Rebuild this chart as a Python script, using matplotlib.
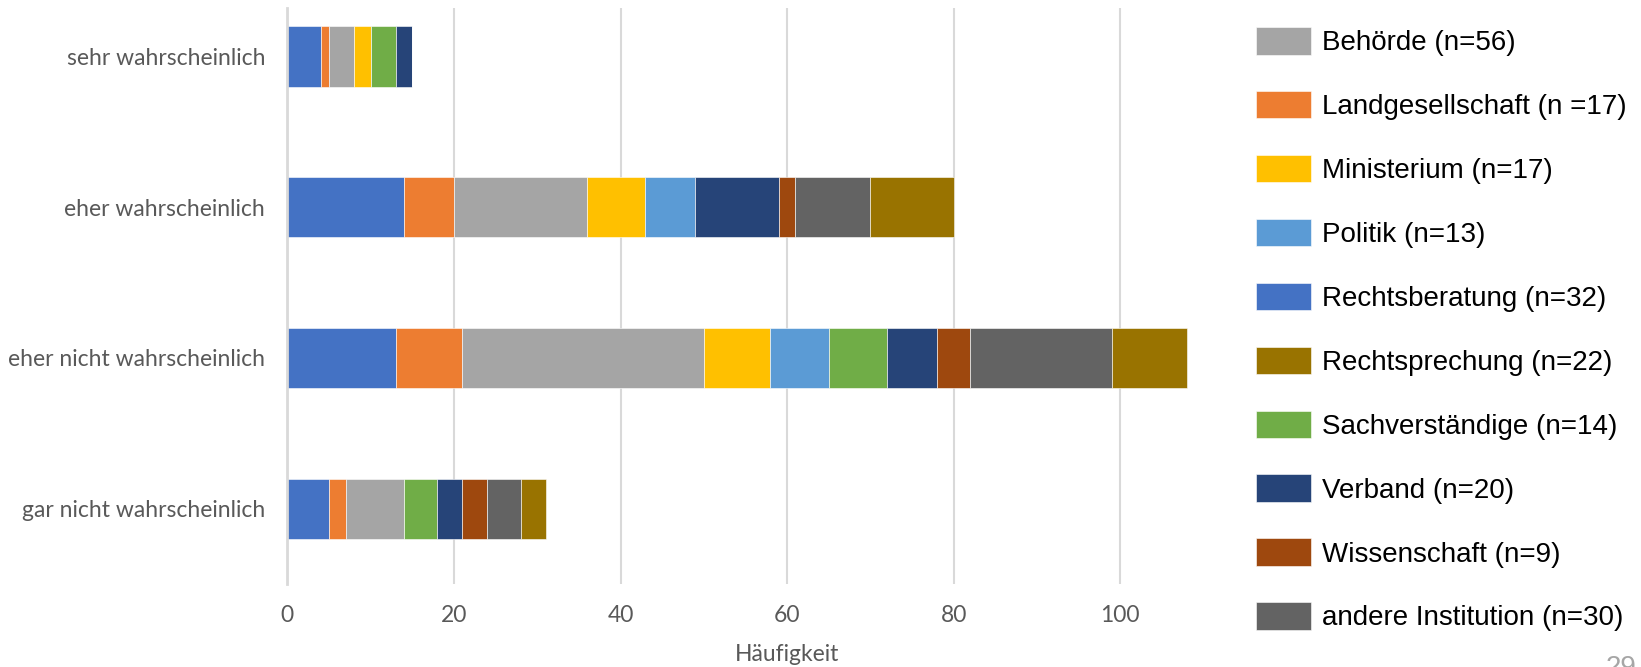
import matplotlib
matplotlib.use("Agg")
import matplotlib.pyplot as plt
import numpy as np

# Antworten je Kategorie (von oben nach unten)
categories = ["sehr wahrscheinlich", "eher wahrscheinlich",
              "eher nicht wahrscheinlich", "gar nicht wahrscheinlich"]

# Häufigkeiten je Gruppe, gleiche Reihenfolge wie categories
rechtsberatung = [4, 14, 13, 5]
landgesellschaft = [1, 6, 8, 2]
behoerde = [3, 16, 29, 7]
ministerium = [2, 7, 8, 0]
politik = [0, 6, 7, 0]
sachverstaendige = [3, 0, 7, 4]
verband = [2, 10, 6, 3]
wissenschaft = [0, 2, 4, 3]
andere = [0, 9, 17, 4]
rechtsprechung = [0, 10, 9, 3]

# Stapelreihenfolge: (Werte, Legendentext, Farbe)
series = [
    (rechtsberatung, "Rechtsberatung (n=32)", "#4472C4"),
    (landgesellschaft, "Landgesellschaft (n =17)", "#ED7D31"),
    (behoerde, "Behörde (n=56)", "#A5A5A5"),
    (ministerium, "Ministerium (n=17)", "#FFC000"),
    (politik, "Politik (n=13)", "#5B9BD5"),
    (sachverstaendige, "Sachverständige (n=14)", "#70AD47"),
    (verband, "Verband (n=20)", "#264478"),
    (wissenschaft, "Wissenschaft (n=9)", "#9E480E"),
    (andere, "andere Institution (n=30)", "#636363"),
    (rechtsprechung, "Rechtsprechung (n=22)", "#997300"),
]

# Legende alphabetisch sortiert
legend_order = ["Behörde (n=56)", "Landgesellschaft (n =17)", "Ministerium (n=17)",
                "Politik (n=13)", "Rechtsberatung (n=32)", "Rechtsprechung (n=22)",
                "Sachverständige (n=14)", "Verband (n=20)", "Wissenschaft (n=9)",
                "andere Institution (n=30)"]

W, H = 1641, 667
fig = plt.figure(figsize=(W / 100, H / 100), dpi=100)
ax = fig.add_axes([287.3 / W, (H - 584) / H, 999.6 / W, 576 / H])

y = np.arange(len(categories))
left = np.zeros(len(categories))
handles = {}
for vals, label, color in series:
    vals = np.array(vals, dtype=float)
    b = ax.barh(y, vals, left=left, height=0.4, color=color, label=label,
                edgecolor="white", linewidth=0.4, zorder=3)
    handles[label] = b
    left += vals

ax.set_xlim(0, 120)
ax.set_ylim(3.5, -0.322)
ax.set_xticks(range(0, 101, 20))
ax.set_yticks(y)
ax.set_yticklabels(categories)

tick_font = dict(family="Lato", size=16.5, color="#595959")
for lab in ax.get_xticklabels() + ax.get_yticklabels():
    lab.set_fontfamily(tick_font["family"])
    lab.set_fontsize(tick_font["size"])
    lab.set_color(tick_font["color"])
ax.tick_params(axis="y", length=0, pad=16)
ax.tick_params(axis="x", length=0, pad=15)

ax.set_xlabel("Häufigkeit", fontfamily="Lato", fontsize=16.5, color="#595959", labelpad=13)

ax.grid(axis="x", color="#D9D9D9", linewidth=1.5, zorder=0)
for s in ["top", "right", "bottom"]:
    ax.spines[s].set_visible(False)
ax.spines["left"].set_color("#D9D9D9")
ax.spines["left"].set_linewidth(2)
ax.spines["left"].set_zorder(4)

leg = fig.legend([handles[l] for l in legend_order], legend_order,
                 loc="upper left", bbox_to_anchor=(1256 / W, 1 - 27 / H),
                 frameon=True, facecolor="white", edgecolor="none", framealpha=1,
                 borderpad=0, borderaxespad=0,
                 prop={"family": "Liberation Sans", "size": 20},
                 handlelength=1.98, handleheight=1.15, handletextpad=0.4,
                 labelspacing=1.25)

# Seitenzahl unten rechts
fig.text(1606 / W, 1 - 655 / H, "29", ha="left", va="top",
         fontfamily="Liberation Sans", fontsize=20, color="#A6A6A6")

fig.savefig("out.png", dpi=100)
